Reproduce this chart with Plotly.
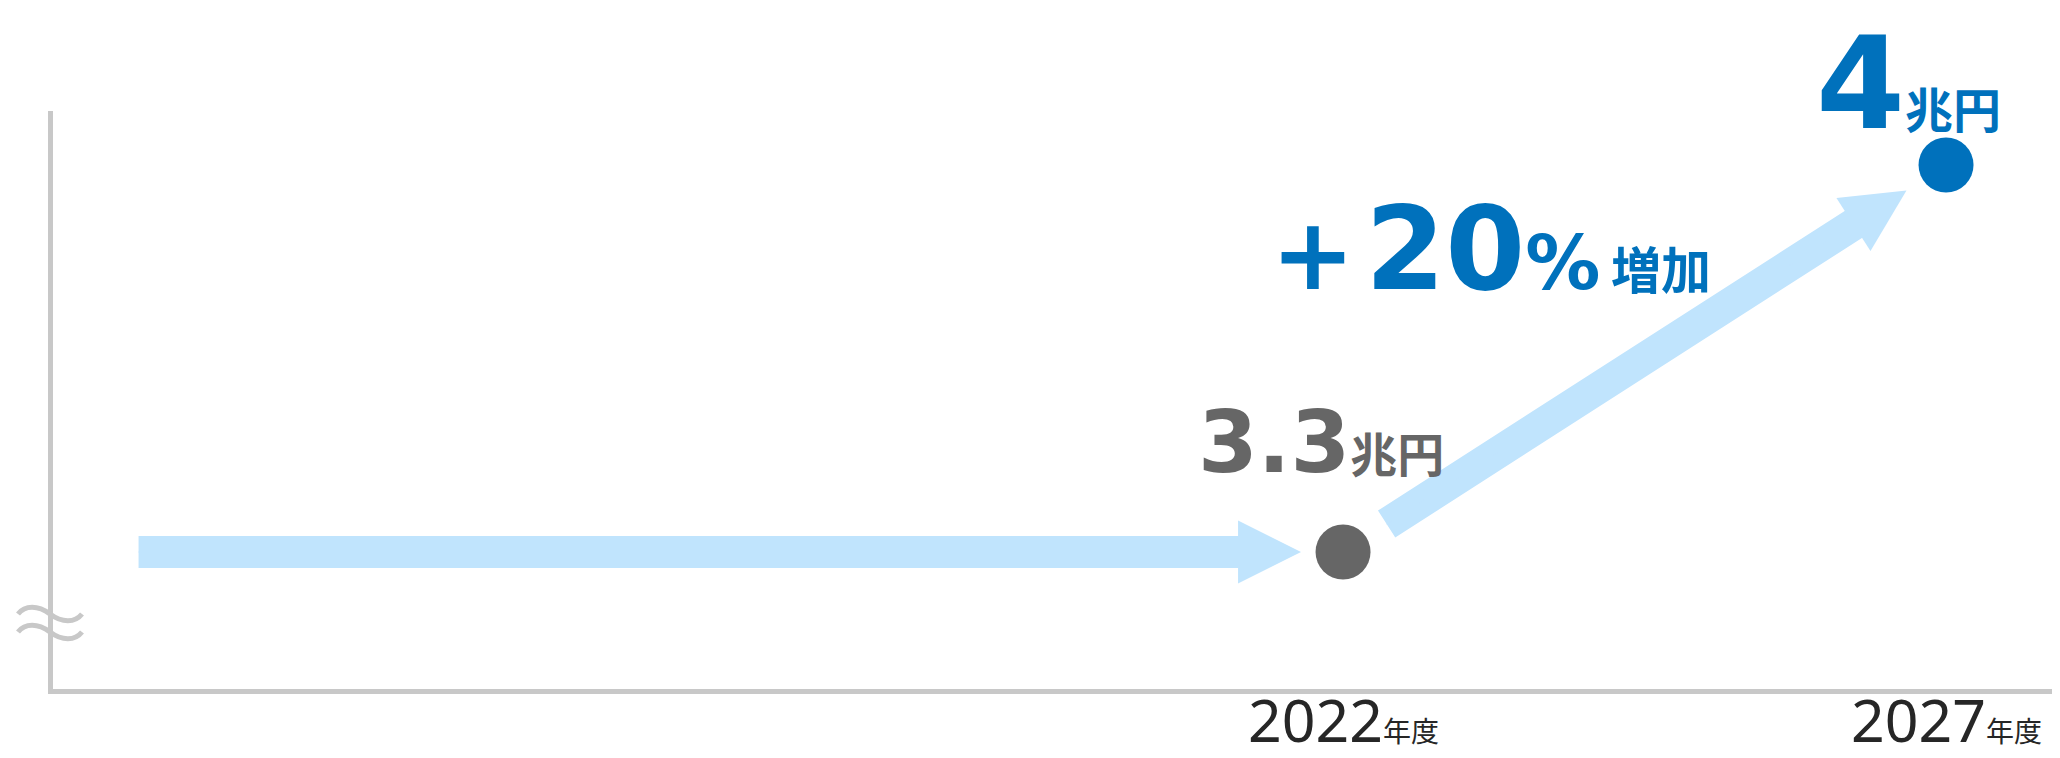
import plotly.graph_objects as go

# ---- data ----
years = [2022, 2027]
values = [3.3, 4.0]
point_colors = ["#666666", "#0071bc"]
value_numbers = ["3.3", "4"]
value_unit = "兆円"
tick_years = [2022, 2027]
tick_numbers = ["2022", "2027"]
tick_suffix = "年度"
arrow_start_year = 2012
growth_sign = "+"
growth_number = "20"
growth_percent = "%"
growth_word = "増加"

# ---- style ----
PAGE_OFF = 8                     # default body margin of the html page
PL, PT, PR, PB = 53, 111, 2060, 689   # plot box in page pixels
W, H = 2060 - PAGE_OFF, 758 - PAGE_OFF
ML, MT = PL - PAGE_OFF, PT - PAGE_OFF
MR, MB = W - (PR - PAGE_OFF), H - (PB - PAGE_OFF)
BLUE = "#0071bc"
GRAY = "#666666"
LIGHT = "#c0e4fd"
AXIS = "#c8c8c8"
NUMFONT = "DejaVu Sans, Noto Sans CJK JP, sans-serif"
TICKFONT = "Noto Sans, Noto Sans CJK JP, sans-serif"
SHAFT_W = 32
HEAD_SCALE = 12.6

fig = go.Figure()
fig.add_trace(go.Scatter(
    x=years, y=values, mode="markers",
    marker=dict(size=55, color=point_colors, line=dict(width=0)),
    cliponaxis=False, hoverinfo="skip", showlegend=False,
))

annotations = []

# x tick labels, placed at the tick years through the x axis
for ty, tn in zip(tick_years, tick_numbers):
    annotations.append(dict(
        x=ty, y=0, xref="x", yref="paper", xanchor="center", yanchor="top",
        yshift=12, showarrow=False,
        text=f"{tn}<span style='font-size:28px'>{tick_suffix}</span>",
        font=dict(family=TICKFONT, size=59, color="#262626"),
    ))


def arrow(x, y, ax, ay, tip_off, start_off=0):
    common = dict(x=x, y=y, ax=ax, ay=ay, xref="x", yref="y", axref="x", ayref="y",
                  text="", showarrow=True, arrowcolor=LIGHT, startstandoff=start_off)
    # shaft (ends inside the head)
    annotations.append(dict(common, arrowhead=0, arrowwidth=SHAFT_W, standoff=tip_off + 40))
    # head (thin line hidden under the shaft)
    annotations.append(dict(common, arrowhead=2, arrowwidth=1, arrowsize=HEAD_SCALE, standoff=tip_off))


arrow(years[0], values[0], arrow_start_year, values[0], 42)
arrow(years[1], values[1], years[0], values[0], 47, 50)

# value labels
annotations.append(dict(
    x=years[0], y=values[0], xref="x", yref="y",
    text=f"{value_numbers[0]}<span style='font-size:47px'>{value_unit}</span>",
    showarrow=False, xanchor="center", yanchor="bottom", xshift=-22, yshift=58,
    font=dict(family=NUMFONT, size=86, color=GRAY, weight="bold"),
))
annotations.append(dict(
    x=years[1], y=values[1], xref="x", yref="y",
    text=f"{value_numbers[1]}<span style='font-size:48px'>{value_unit}</span>",
    showarrow=False, xanchor="center", yanchor="bottom", xshift=-38, yshift=5,
    font=dict(family=NUMFONT, size=128, color=BLUE, weight="bold"),
))
# growth label
annotations.append(dict(
    x=2021.39, y=3.723, xref="x", yref="y",
    text=(f"{growth_sign}<span style='font-size:30px'> </span>"
          f"<span style='font-size:115px'>{growth_number}</span>"
          f"<span style='font-size:75px'>{growth_percent}</span>"
          f"<span style='font-size:30px'> </span>"
          f"<span style='font-size:50px'>{growth_word}</span>"),
    showarrow=False, xanchor="left", yanchor="bottom",
    font=dict(family=NUMFONT, size=100, color=BLUE, weight="bold"),
))
fig.update_layout(annotations=annotations)


def px2paper(px, py):
    return (px - PL) / (PR - PL), (PB - py) / (PB - PT)


def wave(y0):
    pts = [(18, y0), (25, y0 - 9), (38, y0 - 9), (50, y0),
           (62, y0 + 9), (75, y0 + 9), (82, y0)]
    p = [px2paper(*q) for q in pts]
    s = f"M{p[0][0]},{p[0][1]} C{p[1][0]},{p[1][1]} {p[2][0]},{p[2][1]} {p[3][0]},{p[3][1]} "
    s += f"C{p[4][0]},{p[4][1]} {p[5][0]},{p[5][1]} {p[6][0]},{p[6][1]}"
    return s


shapes = []
for y0 in (614, 632):
    shapes.append(dict(type="path", xref="paper", yref="paper", path=wave(y0),
                       line=dict(color=AXIS, width=5), layer="above"))
fig.update_layout(shapes=shapes)

fig.update_xaxes(
    range=[2011.303, 2027.945], showgrid=False, zeroline=False,
    showline=True, linecolor=AXIS, linewidth=5,
    tickmode="array", tickvals=tick_years, showticklabels=False, ticks="",
)
fig.update_yaxes(
    range=[3.0522, 4.0977], showgrid=False, zeroline=False,
    showline=True, linecolor=AXIS, linewidth=5, showticklabels=False, ticks="",
)
fig.update_layout(
    width=W, height=H, margin=dict(l=ML, r=MR, t=MT, b=MB, pad=0),
    paper_bgcolor="white", plot_bgcolor="white", showlegend=False,
)
fig.write_html("out.html")
